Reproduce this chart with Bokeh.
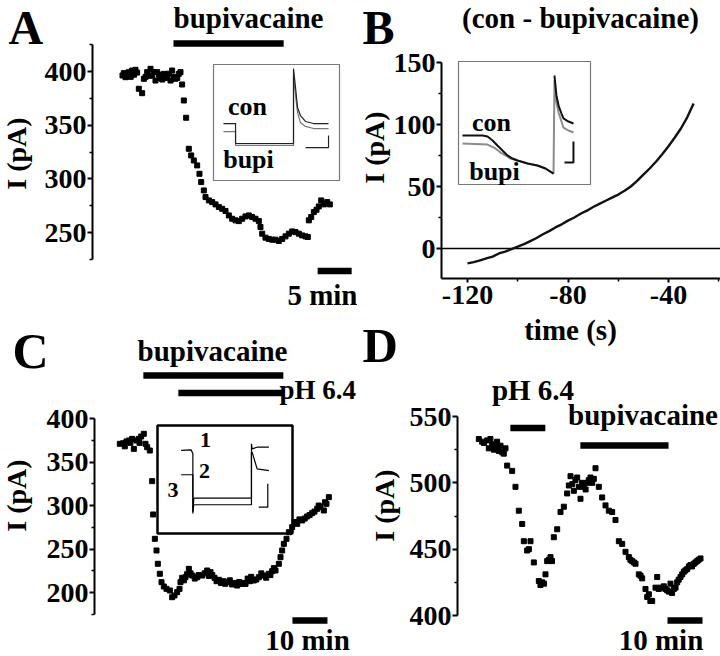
import math
from bokeh.plotting import figure
from bokeh.models import Range1d, FixedTicker, Label
from bokeh.layouts import row, column
from bokeh.embed import file_html
from bokeh.resources import INLINE

FONT = "Liberation Serif"

# ------------------------------------------------------------------ data
# Panel A: time (min) and holding current (pA)
a_time = [0.0, 0.2, 0.44, 0.7, 0.93, 1.2, 1.42, 1.7, 1.91, 2.15, 2.40, 2.89, 3.14, 3.4, 3.63, 3.9, 4.12, 4.36,
          4.6, 4.85, 5.10, 5.35, 5.59, 5.85, 6.08, 6.3, 6.57, 6.8, 7.06, 7.30, 7.55, 7.79, 8.05, 8.28, 8.53, 8.77,
          9.02, 9.36, 9.75, 10.10, 10.49, 10.98, 11.32, 11.57, 11.96, 12.21, 12.70, 13.19, 13.68, 14.17, 14.66,
          15.15, 15.64, 16.13, 16.62, 17.11, 17.60, 18.09, 18.58, 19.07, 19.56, 20.05, 20.29, 20.54, 21.03,
          21.52, 22.01, 22.50, 22.99, 23.48, 23.97, 24.46, 24.95, 25.44, 25.93, 26.42, 26.91, 27.25, 27.40,
          27.75, 28.14, 28.53, 28.87, 29.22, 29.61, 30.10, 30.49]
a_current = [396.3, 398.5, 394.7, 397.0, 399.4, 395.0, 400.9, 397.0, 401.6, 399.0, 383.9, 379.8, 393.2, 395.0,
             399.4, 396.0, 402.5, 396.3, 399.5, 391.6, 399.4, 397.0, 394.1, 392.5, 397.8, 394.0, 396.3, 398.0,
             391.6, 400.9, 395.0, 393.2, 394.0, 397.8, 399.4, 387.9, 373.0, 356.9, 328.0, 321.8, 317.1, 312.5,
             304.7, 297.0, 289.2, 283.0, 279.9, 278.3, 276.2, 273.7, 272.1, 270.0, 265.9, 262.8, 261.3, 260.6,
             262.8, 265.0, 265.9, 264.4, 262.8, 260.6, 255.1, 248.9, 245.2, 244.0, 243.3, 243.3, 242.1, 244.0,
             246.4, 248.9, 251.0, 250.4, 248.9, 247.3, 246.4, 245.8, 261.3, 264.4, 269.0, 271.2, 274.3, 279.9,
             276.2, 278.3, 276.2]
a_bupivacaine = [7.5, 23.7]          # application start / end (min)
a_scale = [28.7, 33.7]               # 5 min scale bar
a_yticks = [250, 300, 350, 400]
a_yminor = [225, 275, 325, 375, 425]

# Panel B: difference current (con - bupivacaine) vs time (s)
b_time = [-120, -117.5, -115, -112.5, -110, -107.5, -105, -102.5, -100, -97.5, -95, -92.5, -90, -87.5, -85,
          -82.5, -80, -77.5, -75, -72.5, -70, -67.5, -65, -62.5, -60, -57.5, -55, -52.5, -50, -47.5, -45,
          -42.5, -40, -37.5, -35, -32.5, -30]
b_current = [-12, -11, -9.5, -8, -6.5, -4, -2.5, -0.5, 1.5, 3.5, 6, 8.5, 11.5, 14, 17, 19.5, 22.5, 25, 28,
             30.5, 33.5, 36, 38.5, 41, 43.5, 46.5, 50, 54.5, 59.5, 64.5, 70, 76, 82.5, 89.5, 97, 106, 117]
b_xticks = [-120, -80, -40]
b_xminor = [-100, -60, -20]
b_xtick_labels = ["-120", "-80", "-40"]
b_yticks = [0, 50, 100, 150]
b_yminor = [25, 75, 125]

# Panel C
c_time = [0.38, 1.33, 1.8, 2.29, 2.95, 3.4, 3.90, 4.38, 5.14, 5.81, 6.0, 6.48, 7.24, 7.71, 8.19, 8.95, 9.62,
          9.90, 10.38, 10.86, 11.24, 11.81, 12.29, 12.95, 13.71, 14.67, 15.33, 16.00, 16.76, 17.43, 17.71,
          18.19, 18.7, 19.14, 19.6, 20.10, 20.6, 21.05, 21.8, 22.48, 22.9, 23.90, 24.6, 25.33, 25.8, 26.29,
          26.8, 27.43, 28.0, 28.67, 29.3, 29.90, 30.5, 31.05, 31.8, 32.48, 33.2, 33.90, 34.5, 35.05, 35.7,
          36.29, 36.9, 37.52, 37.9, 38.67, 39.4, 40.10, 40.8, 41.52, 42.2, 42.95, 43.4, 43.90, 44.4, 44.86,
          45.81, 46.29, 46.76, 47.24, 48.00, 48.67, 49.62, 50.3, 51.05, 51.7, 52.48, 53.2, 53.90, 54.6, 55.33,
          56.0, 56.76, 57.2, 57.71, 58.67, 59.0, 59.43, 60.10]
c_current = [370.9, 371.6, 368.0, 373.6, 374.7, 372.0, 376.6, 365.1, 374.7, 376.6, 372.0, 379.3, 382.4, 370.9,
             367.0, 363.2, 328.0, 289.7, 261.7, 248.3, 233.0, 221.5, 211.9, 206.9, 204.2, 202.3, 194.6, 196.6,
             200.4, 204.2, 211.9, 216.9, 214.0, 217.6, 221.0, 227.2, 222.0, 219.5, 216.0, 217.6, 220.0, 219.5,
             222.0, 225.3, 219.0, 223.4, 220.0, 216.9, 213.0, 214.6, 211.0, 213.0, 210.0, 211.9, 214.0, 209.2,
             211.0, 208.0, 212.0, 209.9, 211.0, 209.9, 216.0, 213.0, 218.0, 213.8, 215.0, 217.6, 222.0, 219.5,
             217.0, 221.5, 220.0, 224.5, 228.0, 225.3, 233.0, 240.6, 248.3, 255.9, 261.7, 269.3, 275.1, 281.0,
             278.9, 284.0, 282.8, 285.0, 287.4, 289.0, 291.2, 293.0, 296.2, 300.0, 298.1, 294.3, 303.8, 301.9,
             309.6]
c_bupivacaine = [7.1, 47.1]
c_ph64 = [17.1, 47.1]
c_scale = [49.7, 59.7]               # 10 min scale bar
c_yticks = [200, 250, 300, 350, 400]
c_yminor = [175, 225, 275, 325, 375]

# Panel D
d_time = [0.1, 1.05, 1.6, 2.48, 2.95, 3.4, 3.9, 4.4, 4.86, 5.3, 5.81, 6.29, 6.8, 7.24, 7.71, 8.19, 9.62,
          10.57, 11.52, 12.48, 12.95, 13.9, 14.4, 14.86, 15.81, 17.24, 17.7, 18.19, 18.7, 19.14, 19.62, 20.1,
          20.57, 21.0, 21.52, 22.48, 23.43, 24.38, 25.33, 25.81, 26.29, 26.8, 27.24, 27.7, 28.19, 28.7, 29.14,
          29.6, 30.1, 30.6, 31.05, 31.5, 32.0, 32.5, 32.95, 33.43, 34.38, 35.33, 36.29, 37.24, 38.19, 39.14,
          40.1, 41.05, 42.0, 42.95, 43.4, 43.9, 44.4, 44.86, 45.81, 46.3, 46.76, 47.71, 48.2, 48.67, 49.1,
          49.62, 50.57, 51.05, 51.5, 52.0, 52.95, 53.4, 53.9, 54.4, 54.86, 55.3, 55.81, 56.3, 56.76, 57.2,
          57.71, 58.2, 58.67, 59.1, 59.62, 60.1, 60.57, 61.0, 61.52, 62.0, 62.48, 62.9, 63.43]
d_current = [533, 531, 530, 532, 526, 533, 529, 525, 528, 531, 524, 528, 523, 522, 526, 513, 509, 497, 479,
             469, 456, 449, 450, 456, 440, 426, 423, 425, 424, 431, 441, 442, 444, 441, 459, 465, 478, 482,
             492, 498, 505, 499, 494, 502, 504, 497, 488, 500, 497, 495, 500, 502, 504, 500, 503, 511, 497,
             489, 483, 479, 478, 472, 456, 454, 448, 444, 442, 441, 440, 439, 431, 430, 428, 420, 414, 416,
             411, 411, 421, 429, 420, 421, 422, 420, 419, 418, 424, 417, 420, 421, 425, 427, 429, 431, 433,
             434, 435, 437, 438, 437, 439, 440, 441, 442, 443]
d_ph64 = [9.1, 19.1]
d_bupivacaine = [29.1, 54.3]
d_scale = [54.0, 64.0]
d_yticks = [400, 450, 500, 550]
d_yminor = [425, 475, 525]

# Inset traces (0-100 units within each inset box)
ia_x = [7.9, 17.5, 17.5, 63.5, 63.5, 65.1, 66.7, 69.0, 73.0, 79.4, 91.3]
ia_con = [49.1, 49.1, 31.9, 31.9, 96.6, 80.2, 62.9, 56.0, 50.9, 49.1, 49.1]
ia_bupi = [42.2, 42.2, 30.2, 30.2, 90.5, 73.3, 58.6, 50.0, 46.6, 44.8, 44.8]

ib_x_con = [3.0, 10.6, 18.2, 22.0, 25.8, 29.5, 33.3, 37.1, 40.9, 44.7, 52.3, 59.8, 65.9, 72.0, 72.7, 74.2,
            75.8, 78.0, 79.5, 83.3, 87.1]
ib_con = [39.8, 39.8, 39.8, 39.0, 35.8, 31.7, 27.6, 23.6, 21.1, 19.5, 17.1, 15.4, 13.0, 8.9, 88.6, 72.4,
          64.2, 57.7, 53.7, 51.2, 49.6]
ib_x_bupi = [3.0, 22.0, 28.0, 31.8, 35.6, 39.4, 44.7, 52.3, 59.8, 65.9, 72.0, 72.7, 74.2, 75.8, 78.0, 79.5,
             83.3, 87.1]
ib_bupi = [33.3, 32.5, 29.3, 26.0, 23.6, 21.1, 19.5, 17.1, 15.4, 13.0, 8.9, 84.6, 66.7, 58.5, 51.2, 46.3,
           43.9, 42.3]

ic_x1 = [17.5, 24.9, 26.2, 26.2, 26.9, 68.9, 69.6, 69.6, 70.1, 73.8, 82.5]
ic_y1 = [76.9, 77.5, 73.8, 18.5, 32.7, 32.7, 32.7, 83.1, 78.4, 79.9, 79.9]
ic_x2 = [17.5, 26.2, 26.2, 26.9, 68.9, 69.6, 69.6, 70.1, 73.8, 82.5]
ic_y2 = [54.4, 54.4, 20.0, 26.6, 26.6, 26.6, 75.3, 75.3, 59.9, 58.3]

# ------------------------------------------------------------------ geometry (page pixels)
W_L, W_R = 357, 363
H_A, H_C = 320, 336
H_B, H_D = 374, 282


def lin(r0, d0, r1, d1):
    k = (d1 - d0) / (r1 - r0)
    return lambda r: d0 + (r - r0) * k


def make_fig(w, h, ox, oy, fx, fy, with_x=False):
    kw = dict(width=w, height=h, x_range=Range1d(fx(ox), fx(ox + w)),
              y_range=Range1d(fy(oy + h), fy(oy)),
              output_backend="svg", toolbar_location=None,
              min_border_left=0, min_border_right=0, min_border_top=0, min_border_bottom=0,
              background_fill_color="white", border_fill_color="white", outline_line_color=None)
    if not with_x:
        kw["x_axis_location"] = None
    p = figure(**kw)
    p.grid.visible = False
    return p


def style_axis(ax, ticks, minor, bounds, fixed):
    ax.ticker = FixedTicker(ticks=ticks, minor_ticks=minor)
    ax.bounds = bounds
    ax.fixed_location = fixed
    ax.axis_line_width = 2
    ax.axis_line_color = "black"
    ax.major_tick_line_width = 2
    ax.major_tick_out = 5
    ax.major_tick_in = 0
    ax.minor_tick_line_width = 1.5
    ax.minor_tick_out = 3
    ax.minor_tick_in = 0
    ax.major_label_text_font = FONT
    ax.major_label_text_font_style = "bold"
    ax.major_label_text_font_size = "28px"
    ax.major_label_text_color = "black"
    ax.major_label_standoff = 1


def label(p, fx, fy, rx, ry, text, size, align="left", angle=0.0, rotated=False):
    # ry is the wanted baseline (page px); Bokeh places the middle of the text box
    y = ry if rotated else ry - 0.34 * size
    p.add_layout(Label(x=fx(rx), y=fy(y), text=text, text_font=FONT, text_font_style="bold",
                       text_font_size=f"{size}px", text_align=align, text_baseline="middle",
                       angle=angle, text_color="black"))


def vlabel(p, fx, fy, rx, ry, text, size):
    label(p, fx, fy, rx, ry, text, size, align="center", angle=math.pi / 2, rotated=True)


def inset_pts(fx, fy, box, ux, uy):
    rx0, ry0, rx1, ry1 = box
    xs = [fx(rx0 + u / 100 * (rx1 - rx0)) for u in ux]
    ys = [fy(ry1 - u / 100 * (ry1 - ry0)) for u in uy]
    return xs, ys


def box_quad(p, fx, fy, box, color, width, fill=None):
    rx0, ry0, rx1, ry1 = box
    p.quad(left=[fx(rx0)], right=[fx(rx1)], bottom=[fy(ry1)], top=[fy(ry0)],
           line_color=color, line_width=width, fill_color=fill)


def bars(p, fy, starts, ends, ry_list, width):
    p.segment(x0=starts, y0=[fy(r) for r in ry_list], x1=ends, y1=[fy(r) for r in ry_list],
              line_width=width, line_color="black", line_cap="butt")


# ------------------------------------------------------------------ panel A
fxA = lin(122, 0, 156, 5)
fyA = lin(71, 400, 232, 250)
pA = make_fig(W_L, H_A, 0, 0, fxA, fyA)
style_axis(pA.yaxis[0], a_yticks, a_yminor, (225, 425), fxA(92))
boxA = (213, 64, 339, 180)
box_quad(pA, fxA, fyA, boxA, "#777777", 1.2)
xs, ys = inset_pts(fxA, fyA, boxA, ia_x, ia_bupi)
pA.line(xs, ys, line_color="#777777", line_width=1.2)
xs, ys = inset_pts(fxA, fyA, boxA, ia_x, ia_con)
pA.line(xs, ys, line_color="#222222", line_width=1.2)
xs, ys = inset_pts(fxA, fyA, boxA, [73.0, 91.3, 91.3], [28.4, 28.4, 38.8])
pA.line(xs, ys, line_color="#222222", line_width=1.2)
pA.scatter(a_time, a_current, marker="square", size=5, color="black")
bars(pA, fyA, [a_bupivacaine[0], a_scale[0]], [a_bupivacaine[1], a_scale[1]], [43, 270.5], 6.5)
label(pA, fxA, fyA, 8, 43, "A", 48)
label(pA, fxA, fyA, 248, 27, "bupivacaine", 29, align="center")
label(pA, fxA, fyA, 357, 304, "5 min", 29, align="right")
vlabel(pA, fxA, fyA, 16, 153, "I (pA)", 28)
label(pA, fxA, fyA, 247, 115, "con", 26, align="center")
label(pA, fxA, fyA, 248, 168, "bupi", 26, align="center")

# ------------------------------------------------------------------ panel B
fxB = lin(467, -120, 668, -40)
fyB = lin(248, 0, 62, 150)
pB = make_fig(W_R, H_B, W_L, 0, fxB, fyB, with_x=True)
style_axis(pB.yaxis[0], b_yticks, b_yminor, (fyB(278), 150), fxB(441))
style_axis(pB.xaxis[0], b_xticks, b_xminor, (fxB(441), fxB(720)), fyB(278))
pB.xaxis[0].major_tick_out = 4
pB.xaxis[0].major_label_standoff = 3
pB.xaxis[0].major_label_overrides = {t: s for t, s in zip(b_xticks, b_xtick_labels)}
pB.segment(x0=[fxB(441)], y0=[0], x1=[fxB(720)], y1=[0], line_color="black", line_width=1.5)
boxB = (458, 61, 590, 184)
box_quad(pB, fxB, fyB, boxB, "#777777", 1.2)
xs, ys = inset_pts(fxB, fyB, boxB, ib_x_bupi, ib_bupi)
pB.line(xs, ys, line_color="#8c8c8c", line_width=2)
xs, ys = inset_pts(fxB, fyB, boxB, ib_x_con[:14], ib_con[:14])
pB.line(xs, ys, line_color="#111111", line_width=2)
xs, ys = inset_pts(fxB, fyB, boxB, ib_x_con[14:], ib_con[14:])
pB.line(xs, ys, line_color="#111111", line_width=2)
xs, ys = inset_pts(fxB, fyB, boxB, [80.3, 87.1, 87.1], [17.9, 17.9, 35.0])
pB.line(xs, ys, line_color="#111111", line_width=2)
pB.line(b_time, b_current, line_color="#111111", line_width=2.4)
label(pB, fxB, fyB, 362, 43, "B", 48)
label(pB, fxB, fyB, 580, 27, "(con - bupivacaine)", 29, align="center")
vlabel(pB, fxB, fyB, 374, 147, "I (pA)", 28)
label(pB, fxB, fyB, 570, 339, "time (s)", 29, align="center")
label(pB, fxB, fyB, 362, 362, "D", 49)
label(pB, fxB, fyB, 491, 131, "con", 26, align="center")
label(pB, fxB, fyB, 494, 180, "bupi", 26, align="center")

# ------------------------------------------------------------------ panel C
fxC = lin(118, 0, 153, 10)
fyC = lin(418, 400, 592, 200)
pC = make_fig(W_L, H_C, 0, H_A, fxC, fyC)
style_axis(pC.yaxis[0], c_yticks, c_yminor, (175, 400), fxC(94))
boxC = (157, 425, 292, 533)
box_quad(pC, fxC, fyC, boxC, "black", 2.5, fill="white")
xs, ys = inset_pts(fxC, fyC, boxC, ic_x1, ic_y1)
pC.line(xs, ys, line_color="black", line_width=1.2)
xs, ys = inset_pts(fxC, fyC, boxC, ic_x2, ic_y2)
pC.line(xs, ys, line_color="black", line_width=1.2)
xs, ys = inset_pts(fxC, fyC, boxC, [75.0, 81.7, 81.7], [24.4, 24.4, 46.0])
pC.line(xs, ys, line_color="black", line_width=1.2)
pC.scatter(c_time, c_current, marker="square", size=5, color="black")
bars(pC, fyC, [c_bupivacaine[0], c_ph64[0], c_scale[0]], [c_bupivacaine[1], c_ph64[1], c_scale[1]],
     [375, 392.5, 620], 6.5)
label(pC, fxC, fyC, 12, 367, "C", 50)
label(pC, fxC, fyC, 212, 360, "bupivacaine", 29, align="center")
label(pC, fxC, fyC, 279, 399, "pH 6.4", 27)
label(pC, fxC, fyC, 307, 649.5, "10 min", 29, align="center")
vlabel(pC, fxC, fyC, 16, 495, "I (pA)", 28)
label(pC, fxC, fyC, 205, 446.5, "1", 22, align="center")
label(pC, fxC, fyC, 204, 478, "2", 22, align="center")
label(pC, fxC, fyC, 172.5, 497, "3", 22, align="center")

# ------------------------------------------------------------------ panel D
fxD = lin(478, 0, 513, 10)
fyD = lin(416, 550, 615, 400)
pD = make_fig(W_R, H_D, W_L, H_B, fxD, fyD)
style_axis(pD.yaxis[0], d_yticks, d_yminor, (400, 550), fxD(457))
pD.scatter(d_time, d_current, marker="square", size=5, color="black")
bars(pD, fyD, [d_ph64[0], d_bupivacaine[0], d_scale[0]], [d_ph64[1], d_bupivacaine[1], d_scale[1]],
     [427.5, 445, 620], 6.5)
label(pD, fxD, fyD, 532.5, 399, "pH 6.4", 29, align="center")
label(pD, fxD, fyD, 642.5, 424, "bupivacaine", 29, align="center")
label(pD, fxD, fyD, 660.5, 649.5, "10 min", 29, align="center")
vlabel(pD, fxD, fyD, 384, 505, "I (pA)", 28)

layout = row(column(pA, pC), column(pB, pD))
open("out.html", "w").write(file_html(layout, INLINE))
